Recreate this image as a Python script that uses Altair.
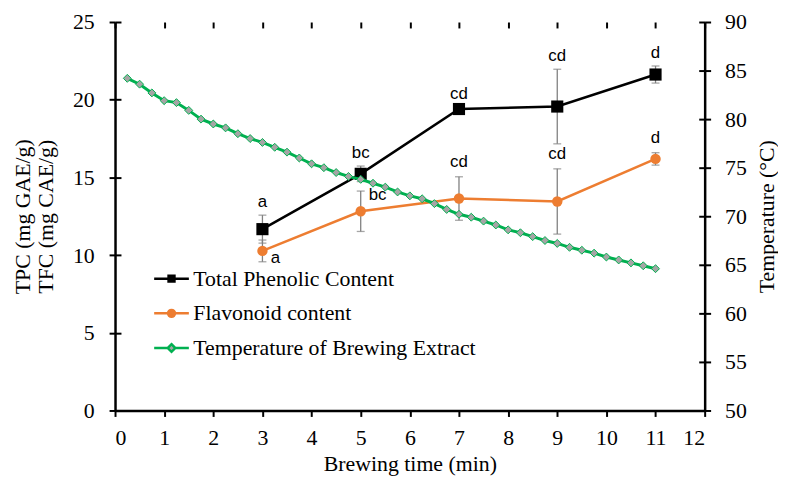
import altair as alt
import pandas as pd

# ---- data ----
time = [3, 5, 7, 9, 11]
tpc = [11.67, 15.23, 19.40, 19.56, 21.62]
tpc_err = [0.9, 0.5, 0.15, 2.4, 0.55]
tfc = [10.27, 12.82, 13.64, 13.45, 16.19]
tfc_err = [0.7, 1.3, 1.4, 2.1, 0.4]
tpc_letters = ["a", "bc", "cd", "cd", "d"]
tfc_letters = ["a", "bc", "cd", "cd", "d"]

temp_time = [0.25 * i for i in range(1, 45)]
temp = [84.2, 83.6, 82.7, 81.9, 81.7, 80.9, 80.0, 79.5, 79.1, 78.5, 78.0,
        77.6, 77.1, 76.6, 76.0, 75.4, 75.0, 74.5, 74.1, 73.8, 73.4, 73.0,
        72.5, 72.1, 71.8, 71.3, 70.7, 70.2, 69.9, 69.5, 69.1, 68.6, 68.3,
        67.9, 67.5, 67.2, 66.8, 66.5, 66.2, 65.8, 65.5, 65.2, 64.9, 64.6]

series = ["Total Phenolic Content", "Flavonoid content", "Temperature of Brewing Extract"]

BLACK = "#000000"
ORANGE = "#ED7D31"
GREEN = "#00B050"
GRAY = "#A5A5A5"
ERR = "#808080"
SERIF = "Liberation Serif"
SANS = "Liberation Sans"
FS = 22

df = pd.DataFrame({"time": time, "tpc": tpc, "tpc_err": tpc_err, "tfc": tfc,
                   "tfc_err": tfc_err, "tpc_l": tpc_letters, "tfc_l": tfc_letters})
tdf = pd.DataFrame({"time": temp_time, "temp": temp})
legdf = pd.DataFrame({"series": series, "time": [0, 0, 0], "v": [0, 0, 0]})

xscale = alt.Scale(domain=[0, 12], nice=False)
yl = alt.Scale(domain=[0, 25], nice=False)
yr = alt.Scale(domain=[50, 90], nice=False)

# grid with a short dash = inward half of the "cross" tick marks
common = dict(grid=True, gridColor="#000", gridWidth=2, gridDash=[6, 3000], gridOpacity=1,
              labelFont=SERIF, labelFontSize=FS, labelColor="#000",
              titleFont=SERIF, titleFontSize=FS, titleFontWeight="normal", titleColor="#000",
              domainColor="#000", domainWidth=2.5, tickColor="#000", tickWidth=2, tickSize=6)

xaxis = alt.Axis(values=list(range(13)), title="Brewing time (min)", labelPadding=11,
                 titlePadding=6, **common)
ylaxis = alt.Axis(values=[0, 5, 10, 15, 20, 25], title=["TPC (mg GAE/g)", "TFC (mg CAE/g)"],
                  labelPadding=15, titlePadding=15, titleLineHeight=23, **common)
yraxis = alt.Axis(values=list(range(50, 95, 5)), title="Temperature (°C)", orient="right",
                  labelPadding=14, titleAngle=270, titleBaseline="top", titlePadding=10,
                  **common)

X = alt.X("time:Q", scale=xscale, axis=xaxis)


def YL(field):
    return alt.Y(field, scale=yl, axis=ylaxis)


def series_layers(col, ecol, color, shape, size):
    base = alt.Chart(df).transform_calculate(
        lo=f"datum.{col} - datum.{ecol}", hi=f"datum.{col} + datum.{ecol}")
    rule = base.mark_rule(color=ERR, strokeWidth=1.3).encode(
        x=X, y=YL("lo:Q"), y2="hi:Q")
    cap_lo = base.mark_tick(color=ERR, thickness=1.3, size=8, orient="horizontal").encode(
        x=X, y=YL("lo:Q"))
    cap_hi = base.mark_tick(color=ERR, thickness=1.3, size=8, orient="horizontal").encode(
        x=X, y=YL("hi:Q"))
    line = base.mark_line(color=color, strokeWidth=2.5).encode(x=X, y=YL(f"{col}:Q"))
    pts = base.mark_point(shape=shape, filled=True, color=color, size=size, opacity=1).encode(
        x=X, y=YL(f"{col}:Q"))
    return [rule, cap_lo, cap_hi, line, pts]


tpc_layers = series_layers("tpc", "tpc_err", BLACK, "square", 150)
tfc_layers = series_layers("tfc", "tfc_err", ORANGE, "circle", 110)

txt_base = alt.Chart(df).transform_calculate(
    tpc_hi="datum.tpc + datum.tpc_err", tfc_hi="datum.tfc + datum.tfc_err")
tpc_text = txt_base.mark_text(font=SANS, fontSize=17, color="#000", dy=-13, baseline="middle").encode(
    x=X, y=YL("tpc_hi:Q"), text="tpc_l:N")
tfc_text_top = txt_base.transform_filter("datum.time >= 7").mark_text(
    font=SANS, fontSize=17, color="#000", dy=-15, baseline="middle").encode(
    x=X, y=YL("tfc_hi:Q"), text="tfc_l:N")
tfc_text_3 = txt_base.transform_filter("datum.time == 3").mark_text(
    font=SANS, fontSize=17, color="#000", dx=13, dy=7, baseline="middle").encode(
    x=X, y=YL("tfc:Q"), text="tfc_l:N")
tfc_text_5 = txt_base.transform_filter("datum.time == 5").mark_text(
    font=SANS, fontSize=17, color="#000", dx=17, dy=-16, baseline="middle").encode(
    x=X, y=YL("tfc:Q"), text="tfc_l:N")

# legend-only layer (no marks drawn)
sq = "M-1,0H1M-0.17,-0.17H0.17V0.17H-0.17Z"
ci = "M-1,0H1M0.2,0A0.2,0.2,0,1,1,-0.2,0A0.2,0.2,0,1,1,0.2,0Z"
di = "M-1,0H-0.22M0.22,0H1M0,-0.22L0.22,0L0,0.22L-0.22,0Z"
legend_layer = alt.Chart(legdf).transform_filter("false").mark_point(
    filled=True, opacity=1, size=1225, strokeWidth=2.5).encode(
    x=X, y=YL("v:Q"),
    shape=alt.Shape("series:N", scale=alt.Scale(domain=series, range=[sq, ci, di]),
                    legend=alt.Legend(title=None, orient="none", legendX=38, legendY=240,
                                      labelFont=SERIF, labelFontSize=FS, labelColor="#000",
                                      labelOffset=3, rowPadding=5, padding=0,
                                      symbolSize=1225, symbolStrokeWidth=2.5,
                                      labelLimit=400)),
    stroke=alt.Stroke("series:N", scale=alt.Scale(domain=series, range=[BLACK, ORANGE, GREEN])),
    fill=alt.Fill("series:N", scale=alt.Scale(domain=series, range=[BLACK, ORANGE, GRAY])),
)

left = alt.layer(*tpc_layers, *tfc_layers, tpc_text, tfc_text_top, tfc_text_3, tfc_text_5,
                 legend_layer)

YR = alt.Y("temp:Q", scale=yr, axis=yraxis)
tbase = alt.Chart(tdf)
tline = tbase.mark_line(color=GREEN, strokeWidth=3).encode(x=X, y=YR)
tpts = tbase.mark_point(shape="diamond", filled=True, fill=GRAY, stroke=GREEN,
                        strokeWidth=1, size=64, opacity=1).encode(x=X, y=YR)
right = alt.layer(tline, tpts)

chart = alt.layer(left, right).resolve_scale(y="independent").properties(
    width=595, height=392,
    autosize=alt.AutoSizeParams(type="none"),
    padding={"left": 108, "top": 12, "right": 74, "bottom": 66},
).configure_view(stroke=None)

chart.save("out.html", embed_options={"renderer": "svg", "actions": False})
